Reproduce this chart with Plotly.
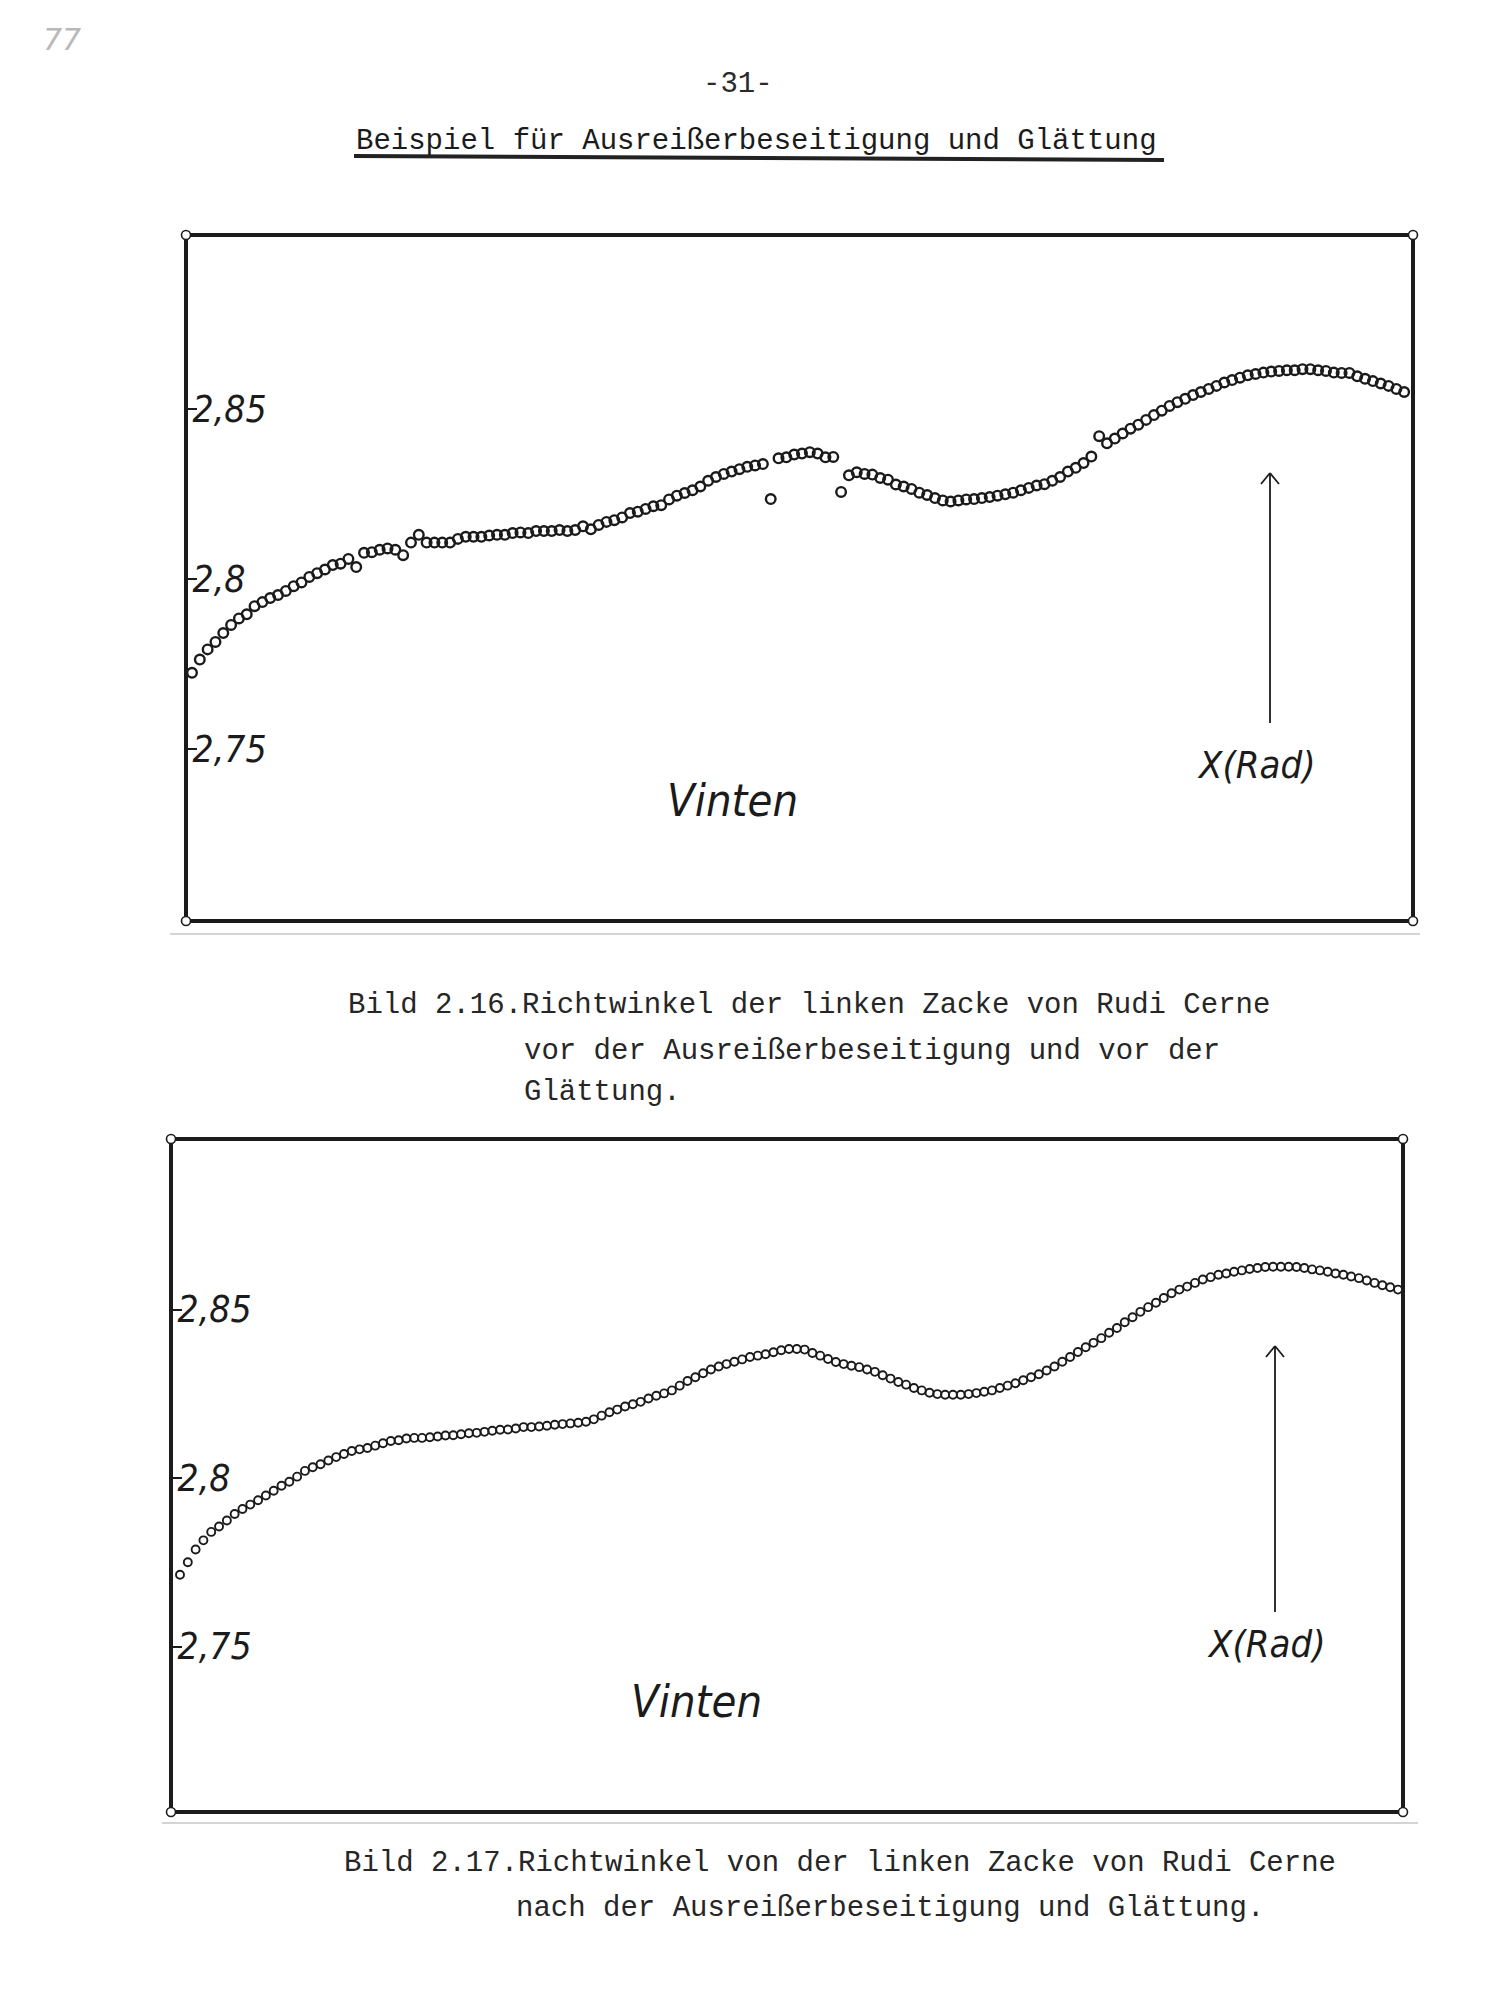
import plotly.graph_objects as go

# ---------------------------------------------------------------
# Richtwinkel der linken Zacke (Rudi Cerne), Vinten-Kamera
# ---------------------------------------------------------------

# Rohwerte vor Ausreißerbeseitigung und Glättung (Bild 2.16)
raw_angle = [
    2.7724, 2.7763, 2.7793, 2.7815, 2.7841, 2.7865, 2.7884, 2.7896, 2.7920, 2.7932,
    2.7944, 2.7953, 2.7965, 2.7979, 2.7990, 2.8006, 2.8017, 2.8028, 2.8041, 2.8045,
    2.8059, 2.8035, 2.8077, 2.8079, 2.8086, 2.8090, 2.8086, 2.8070, 2.8107, 2.8130,
    2.8107, 2.8107, 2.8107, 2.8107, 2.8118, 2.8124, 2.8124, 2.8124, 2.8128, 2.8130,
    2.8130, 2.8135, 2.8137, 2.8135, 2.8141, 2.8141, 2.8141, 2.8144, 2.8141, 2.8144,
    2.8155, 2.8146, 2.8159, 2.8168, 2.8173, 2.8181, 2.8194, 2.8198, 2.8206, 2.8214,
    2.8217, 2.8234, 2.8245, 2.8253, 2.8261, 2.8272, 2.8289, 2.8300, 2.8309, 2.8316,
    2.8323, 2.8330, 2.8334, 2.8338, 2.8235, 2.8355, 2.8358, 2.8366, 2.8369, 2.8373,
    2.8369, 2.8358, 2.8359, 2.8256, 2.8305, 2.8314, 2.8309, 2.8307, 2.8297, 2.8292,
    2.8278, 2.8272, 2.8265, 2.8254, 2.8247, 2.8238, 2.8231, 2.8228, 2.8231, 2.8234,
    2.8235, 2.8238, 2.8241, 2.8245, 2.8249, 2.8254, 2.8261, 2.8268, 2.8275, 2.8279,
    2.8289, 2.8300, 2.8316, 2.8327, 2.8341, 2.8360, 2.8420, 2.8399, 2.8413, 2.8428,
    2.8442, 2.8454, 2.8468, 2.8482, 2.8495, 2.8509, 2.8520, 2.8530, 2.8541, 2.8550,
    2.8559, 2.8568, 2.8578, 2.8585, 2.8592, 2.8599, 2.8603, 2.8607, 2.8610, 2.8612,
    2.8614, 2.8614, 2.8617, 2.8617, 2.8614, 2.8612, 2.8607, 2.8606, 2.8606, 2.8596,
    2.8589, 2.8582, 2.8575, 2.8568, 2.8559, 2.8550, 2.8544,
]

# Werte nach Ausreißerbeseitigung und Glättung (Bild 2.17)
smooth_angle = [
    2.7713, 2.7750, 2.7788, 2.7815, 2.7840, 2.7856, 2.7874, 2.7893, 2.7908, 2.7921,
    2.7934, 2.7948, 2.7962, 2.7977, 2.7989, 2.8004, 2.8021, 2.8032, 2.8041, 2.8052,
    2.8062, 2.8071, 2.8080, 2.8085, 2.8089, 2.8096, 2.8103, 2.8110, 2.8112, 2.8117,
    2.8119, 2.8119, 2.8121, 2.8123, 2.8126, 2.8127, 2.8130, 2.8133, 2.8134, 2.8137,
    2.8140, 2.8143, 2.8144, 2.8147, 2.8151, 2.8151, 2.8153, 2.8155, 2.8158, 2.8160,
    2.8162, 2.8164, 2.8167, 2.8174, 2.8185, 2.8195, 2.8203, 2.8212, 2.8219, 2.8226,
    2.8236, 2.8244, 2.8251, 2.8260, 2.8274, 2.8288, 2.8299, 2.8311, 2.8322, 2.8331,
    2.8338, 2.8345, 2.8352, 2.8359, 2.8363, 2.8367, 2.8373, 2.8379, 2.8383, 2.8383,
    2.8381, 2.8371, 2.8363, 2.8353, 2.8344, 2.8338, 2.8333, 2.8329, 2.8322, 2.8315,
    2.8305, 2.8295, 2.8285, 2.8277, 2.8267, 2.8260, 2.8253, 2.8249, 2.8247, 2.8247,
    2.8247, 2.8249, 2.8252, 2.8256, 2.8260, 2.8267, 2.8274, 2.8281, 2.8290, 2.8299,
    2.8308, 2.8319, 2.8331, 2.8345, 2.8359, 2.8374, 2.8388, 2.8401, 2.8415, 2.8431,
    2.8445, 2.8462, 2.8477, 2.8493, 2.8507, 2.8520, 2.8534, 2.8548, 2.8559, 2.8568,
    2.8579, 2.8589, 2.8596, 2.8603, 2.8607, 2.8612, 2.8616, 2.8620, 2.8623, 2.8626,
    2.8627, 2.8627, 2.8627, 2.8626, 2.8623, 2.8619, 2.8616, 2.8612, 2.8607, 2.8603,
    2.8598, 2.8593, 2.8586, 2.8579, 2.8572, 2.8566, 2.8559,
]

sample_index = list(range(len(raw_angle)))

tick_values = [2.75, 2.80, 2.85]
tick_labels = ["2,75", "2,8", "2,85"]

page_title = "Beispiel für Ausreißerbeseitigung und Glättung"
page_number = "-31-"
caption_top = [
    "Bild 2.16.Richtwinkel der linken Zacke von Rudi Cerne",
    "vor der Ausreißerbeseitigung und vor der",
    "Glättung.",
]
caption_bottom = [
    "Bild 2.17.Richtwinkel von der linken Zacke von Rudi Cerne",
    "nach der Ausreißerbeseitigung und Glättung.",
]

# ---------------------------------------------------------------
W, H = 1500, 2015


def px(x):
    return x / W


def py(y):
    return 1 - y / H


INK = "#1b1b1b"
MONO = "Liberation Mono, DejaVu Sans Mono, monospace"
LETTER = "Liberation Sans Narrow, DejaVu Sans Condensed, Liberation Sans, sans-serif"

# frame geometry (pixel positions of the frame lines)
LW = 4
top_box = dict(l=186, t=235, r=1413, b=921)
bot_box = dict(l=171, t=1139, r=1403, b=1812)


def domains(box):
    h = LW / 2
    return ([px(box["l"] + h), px(box["r"] - h)],
            [py(box["b"] - h), py(box["t"] + h)])


def y_range(box, ref_px, ppu):
    h = LW / 2
    top, bot = box["t"] + h, box["b"] - h
    return [2.8 - (bot - ref_px) / ppu, 2.8 + (ref_px - top) / ppu]


def x_range(box, first_px, last_px, n):
    h = LW / 2
    step = (last_px - first_px) / (n - 1)
    return [-(first_px - (box["l"] + h)) / step,
            (n - 1) + ((box["r"] - h) - last_px) / step]


n = len(raw_angle)
xd1, yd1 = domains(top_box)
xd2, yd2 = domains(bot_box)

fig = go.Figure()

fig.add_trace(go.Scatter(
    x=sample_index, y=raw_angle, mode="markers", xaxis="x", yaxis="y",
    marker=dict(symbol="circle-open", size=9.6, color=INK, line=dict(width=2.4, color=INK)),
    cliponaxis=False, showlegend=False, hoverinfo="skip",
))
fig.add_trace(go.Scatter(
    x=sample_index, y=smooth_angle, mode="markers", xaxis="x2", yaxis="y2",
    marker=dict(symbol="circle-open", size=8, color=INK, line=dict(width=1.9, color=INK)),
    cliponaxis=False, showlegend=False, hoverinfo="skip",
))

axis_common = dict(showline=True, mirror=True, linewidth=LW, linecolor=INK,
                   showgrid=False, zeroline=False, fixedrange=True)
xaxis_common = dict(axis_common, showticklabels=False, ticks="")
yaxis_common = dict(axis_common, tickmode="array", tickvals=tick_values, ticktext=tick_labels,
                    ticks="inside", ticklen=9, tickwidth=2, tickcolor=INK,
                    ticklabelposition="inside",
                    tickfont=dict(family=LETTER, size=37, color=INK, style="italic"))

fig.update_layout(
    width=W, height=H,
    margin=dict(l=0, r=0, t=0, b=0),
    paper_bgcolor="white", plot_bgcolor="white",
    showlegend=False,
    xaxis=dict(xaxis_common, domain=xd1, range=x_range(top_box, 192, 1412, n), anchor="y"),
    yaxis=dict(yaxis_common, domain=yd1, range=y_range(top_box, 579, 3400), anchor="x"),
    xaxis2=dict(xaxis_common, domain=xd2, range=x_range(bot_box, 180, 1398, n), anchor="y2"),
    yaxis2=dict(yaxis_common, domain=yd2, range=y_range(bot_box, 1478, 3370), anchor="x2"),
)

annotations = []


def text(s, x, y, size, family=MONO, color=INK, xanchor="center", style="normal", weight="normal"):
    annotations.append(dict(
        text=s, x=px(x), y=py(y), xref="paper", yref="paper", showarrow=False,
        xanchor=xanchor, yanchor="middle",
        font=dict(family=family, size=size, color=color, style=style, weight=weight),
    ))


# page header
text("77", 62, 40, 30, family="DejaVu Sans ExtraLight, DejaVu Sans, sans-serif",
     color="#b9b9b9", style="italic")
text(page_number, 738, 84, 29, color="#2a2a2a")
text(page_title, 354, 141, 29, xanchor="left")

# labels inside the frames
text("Vinten", 732, 800, 45, family=LETTER, style="italic")
text("X(Rad)", 1256, 765, 38, family=LETTER, style="italic")
text("Vinten", 696, 1701, 45, family=LETTER, style="italic")
text("X(Rad)", 1266, 1644, 38, family=LETTER, style="italic")

# captions
text(caption_top[0], 346, 1006, 29, xanchor="left", color="#262626")
text(caption_top[1], 522, 1051, 29, xanchor="left", color="#262626")
text(caption_top[2], 522, 1092, 29, xanchor="left", color="#262626")
text(caption_bottom[0], 342, 1863, 29, xanchor="left", color="#262626")
text(caption_bottom[1], 514, 1908, 29, xanchor="left", color="#262626")

fig.update_layout(annotations=annotations)

shapes = []
# title underline
shapes.append(dict(type="line", xref="paper", yref="paper",
                   x0=px(354), y0=py(156), x1=px(1164), y1=py(160),
                   line=dict(color="#222222", width=4)))

# arrows pointing at the X(Rad) curve: shaft plus an open V head
for x_head, y_head, y_tail in [(1270, 473, 723), (1275, 1346, 1612)]:
    shapes.append(dict(type="line", xref="paper", yref="paper",
                       x0=px(x_head), y0=py(y_head), x1=px(x_head), y1=py(y_tail),
                       line=dict(color=INK, width=1.8)))
    for side in (-1, 1):
        shapes.append(dict(type="line", xref="paper", yref="paper",
                           x0=px(x_head), y0=py(y_head),
                           x1=px(x_head + side * 9), y1=py(y_head + 11),
                           line=dict(color=INK, width=1.8)))

# pin marks at the frame corners
r = 4.5
for box in (top_box, bot_box):
    for cx in (box["l"], box["r"]):
        for cy in (box["t"], box["b"]):
            shapes.append(dict(type="circle", xref="paper", yref="paper",
                               x0=px(cx - r), x1=px(cx + r), y0=py(cy + r), y1=py(cy - r),
                               fillcolor="white", line=dict(color=INK, width=1.6)))

# faint paper edges below each frame
shapes.append(dict(type="line", xref="paper", yref="paper",
                   x0=px(170), x1=px(1420), y0=py(934), y1=py(934),
                   line=dict(color="#d4d4d4", width=2)))
shapes.append(dict(type="line", xref="paper", yref="paper",
                   x0=px(162), x1=px(1418), y0=py(1823), y1=py(1823),
                   line=dict(color="#d4d4d4", width=2)))

fig.update_layout(shapes=shapes)

fig.write_html("out.html")
